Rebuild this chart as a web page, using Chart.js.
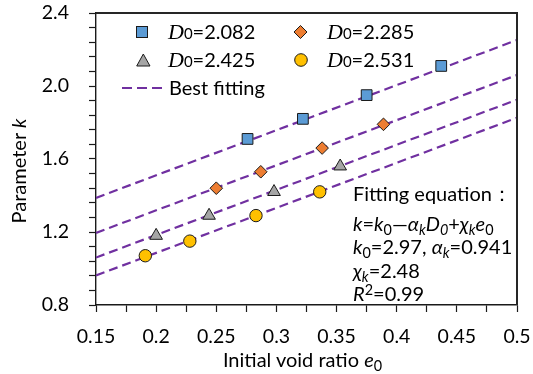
<!DOCTYPE html>
<html><head><meta charset="utf-8">
<script src="https://cdn.jsdelivr.net/npm/chart.js@4.4.1/dist/chart.umd.min.js"></script>
<style>
html,body{margin:0;padding:0;background:#fff;}
#wrap{position:relative;width:533px;height:374px;overflow:hidden;font-family:Lato,"Open Sans",sans-serif;color:#000;}
canvas{position:absolute;left:0;top:0;}
svg{position:absolute;left:0;top:0;}
.t{position:absolute;white-space:nowrap;font-size:20px;line-height:20px;}
.t span,.t i{line-height:0;}
.t i{font-style:italic;}
.sub{position:relative;top:0.28em;font-size:0.72em;}
.sup{position:relative;top:-0.42em;font-size:0.72em;}
.dl{font-family:"Liberation Serif",serif;font-style:italic;font-size:22px;}
.dsub{font-size:0.75em;}
</style></head>
<body><div id="wrap">
<canvas id="c" width="533" height="374"></canvas>
<svg id="ov" width="533" height="374">
  <rect x="136.5" y="26.5" width="11" height="11" fill="#5B9BD5" stroke="#1a1a1a" stroke-width="1"/>
  <polygon points="294,32 300.5,25.5 307,32 300.5,38.5" fill="#ED7D31" stroke="#1a1a1a" stroke-width="1"/>
  <polygon points="143.3,54 136.7,66 150,66" fill="#A5A5A5" stroke="#1a1a1a" stroke-width="1"/>
  <circle cx="301" cy="60" r="6.3" fill="#FFC000" stroke="#1a1a1a" stroke-width="1"/>
  <line x1="122" y1="88" x2="164" y2="88" stroke="#7030A0" stroke-width="2.2" stroke-dasharray="10 5"/>
  <polyline id="frameLine" points="0,0 0,0" fill="none" stroke="#262626" stroke-width="2"/>
</svg>
<div class="t" style="left:168px;top:20.6px"><span class="dl">D</span><span class="dsub">0</span>=2.082</div>
<div class="t" style="left:327px;top:20.6px"><span class="dl">D</span><span class="dsub">0</span>=2.285</div>
<div class="t" style="left:168px;top:49px"><span class="dl">D</span><span class="dsub">0</span>=2.425</div>
<div class="t" style="left:327px;top:49px"><span class="dl">D</span><span class="dsub">0</span>=2.531</div>
<div class="t" style="left:169px;top:76.6px">Best fitting</div>

<div class="t" style="left:353px;top:182.5px">Fitting equation：</div>
<div class="t" style="left:353px;top:212.5px"><i>k</i>=<i>k</i><span class="sub">0</span>—<i>α</i><span class="sub"><i>k</i></span><i>D</i><span class="sub"><i>0</i></span>+<i>χ</i><span class="sub"><i>k</i></span><i>e</i><span class="sub">0</span></div>
<div class="t" style="left:353px;top:235.5px"><i>k</i><span class="sub">0</span>=2.97, <i>α</i><span class="sub"><i>k</i></span>=0.941</div>
<div class="t" style="left:353px;top:260.3px"><i>χ</i><span class="sub"><i>k</i></span>=2.48</div>
<div class="t" style="left:353px;top:283.3px"><i>R</i><span class="sup">2</span>=0.99</div>

<div class="t" style="left:302.5px;top:349px;transform:translateX(-50%)">Initial void ratio <i>e</i><span class="sub">0</span></div>
<div class="t" style="left:18px;top:171px;transform:translate(-50%,-50%) rotate(-90deg)">Parameter <i>k</i></div>
</div>
<script>
// Data
const e0_D2082 = [0.276, 0.322, 0.375, 0.437];
const k_D2082  = [1.71, 1.82, 1.95, 2.11];
const e0_D2285 = [0.250, 0.287, 0.338, 0.389];
const k_D2285  = [1.44, 1.53, 1.66, 1.79];
const e0_D2425 = [0.200, 0.244, 0.298, 0.353];
const k_D2425  = [1.18, 1.29, 1.42, 1.56];
const e0_D2531 = [0.191, 0.228, 0.283, 0.336];
const k_D2531  = [1.07, 1.15, 1.29, 1.42];
// Best-fitting line end points (e0 = 0.15 and 0.5)
const fitE0 = [0.15, 0.5];
const fit_D2082 = [1.387, 2.252];
const fit_D2285 = [1.195, 2.060];
const fit_D2425 = [1.060, 1.925];
const fit_D2531 = [0.962, 1.826];
const xTickLabels = ['0.15','0.2','0.25','0.3','0.35','0.4','0.45','0.5'];
const yTickLabels = ['0.8','1.2','1.6','2.0','2.4'];

const pts = (xs, ys) => xs.map((x, i) => ({x, y: ys[i]}));
const mk = (xs, ys, style, color, r) => ({
  data: pts(xs, ys), pointStyle: style, backgroundColor: color, borderColor: '#1a1a1a',
  borderWidth: 1, pointRadius: r, pointHoverRadius: r, showLine: false, order: 0
});
const fit = (ys) => ({
  data: pts(fitE0, ys), showLine: true, pointRadius: 0, borderColor: '#7030A0',
  borderWidth: 2.2, borderDash: [9, 5], fill: false, order: 1
});
const FONT = {family: 'Lato', size: 19.5};

const chart = new Chart(document.getElementById('c'), {
  type: 'scatter',
  data: {datasets: [
    mk(e0_D2082, k_D2082, 'rect', '#5B9BD5', 7.6),
    mk(e0_D2285, k_D2285, 'rectRot', '#ED7D31', 6.3),
    mk(e0_D2425, k_D2425, 'triangle', '#A5A5A5', 7.3),
    mk(e0_D2531, k_D2531, 'circle', '#FFC000', 6.2),
    fit(fit_D2082), fit(fit_D2285), fit(fit_D2425), fit(fit_D2531)
  ]},
  options: {
    responsive: false, animation: false,
    layout: {padding: {top: 13, right: 16, left: 0, bottom: 0}},
    plugins: {legend: {display: false}, tooltip: {enabled: false}},
    scales: {
      x: {
        type: 'linear', position: 'bottom', min: 0.15, max: 0.5,
        afterFit: s => { s.height = 69; s.paddingLeft = 0; s.paddingRight = 0; },
        border: {color: '#1a1a1a', width: 1.4},
        grid: {drawOnChartArea: false, drawTicks: true, tickLength: 7, color: '#1a1a1a', tickWidth: 1.2},
        ticks: {stepSize: 0.025, autoSkip: false, maxRotation: 0, padding: 13, color: '#000', font: FONT,
          callback: v => { const n = Math.round(v * 40); if (n % 2) return ''; const s = String(Math.round(v * 100) / 100); return xTickLabels.includes(s) ? s : ''; }}
      },
      y: {
        type: 'linear', position: 'left', min: 0.8, max: 2.4,
        afterFit: s => { s.width = 96; s.paddingTop = 0; s.paddingBottom = 0; },
        border: {color: '#1a1a1a', width: 1.4},
        grid: {drawOnChartArea: false, drawTicks: true, tickLength: 7, color: '#1a1a1a', tickWidth: 1.2},
        ticks: {stepSize: 0.08, autoSkip: false, padding: 20, color: '#000', font: FONT,
          callback: v => { const r = Math.round(v * 100) / 100; const s = r.toFixed(1); return (Math.abs(r / 0.4 - Math.round(r / 0.4)) < 1e-6 && yTickLabels.includes(s)) ? s : ''; }}
      }
    }
  }
});
// Top and right edges of the plot frame, placed from the chart's own computed area
const a = chart.chartArea;
const L = Math.round(a.left), T = Math.round(a.top), R = Math.round(a.right), B = Math.round(a.bottom);
document.getElementById('frameLine').setAttribute('points', `${L},${T} ${R},${T} ${R},${B}`);
</script>
</body></html>
